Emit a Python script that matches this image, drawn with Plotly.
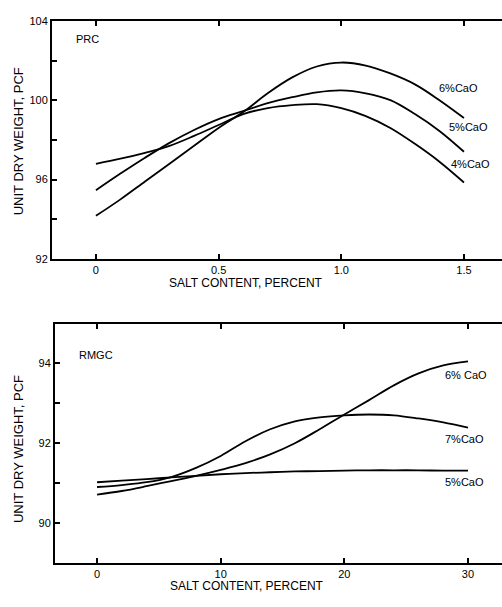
import plotly.graph_objects as go

# ---------------- data: PRC panel ----------------
prc_salt = [0, 0.1, 0.2, 0.3, 0.4, 0.5, 0.6, 0.7, 0.8, 0.9, 1.0, 1.1, 1.2, 1.3, 1.4, 1.5]
prc_6cao = [94.17, 95.0, 95.9, 96.8, 97.7, 98.6, 99.4, 100.35, 101.15, 101.7, 101.9, 101.75, 101.35, 100.8, 100.0, 99.1]
prc_5cao = [95.46, 96.3, 97.1, 97.85, 98.5, 99.05, 99.45, 99.85, 100.15, 100.4, 100.5, 100.35, 100.0, 99.3, 98.45, 97.4]
prc_4cao = [96.79, 97.05, 97.35, 97.7, 98.2, 98.75, 99.3, 99.6, 99.75, 99.8, 99.6, 99.2, 98.6, 97.8, 96.9, 95.85]

# ---------------- data: RMGC panel ----------------
rmgc_salt = [0, 2, 4, 6, 8, 10, 12, 14, 16, 18, 20, 22, 24, 26, 28, 30]
rmgc_6cao = [90.71, 90.8, 90.92, 91.05, 91.18, 91.33, 91.5, 91.72, 92.0, 92.35, 92.72, 93.08, 93.45, 93.75, 93.95, 94.05]
rmgc_7cao = [90.9, 90.95, 91.02, 91.15, 91.38, 91.68, 92.05, 92.35, 92.55, 92.65, 92.7, 92.72, 92.7, 92.62, 92.52, 92.39]
rmgc_5cao = [91.02, 91.06, 91.1, 91.14, 91.18, 91.22, 91.25, 91.27, 91.29, 91.3, 91.31, 91.32, 91.32, 91.32, 91.31, 91.31]

# tick labels
prc_xticks = [0, 0.5, 1.0, 1.5]
prc_xtext = ["0", "0.5", "1.0", "1.5"]
prc_yticks = [92, 94, 96, 98, 100, 102, 104]
prc_ytext = ["92", "", "96", "", "100", "", "104"]
rmgc_xticks = [0, 10, 20, 30]
rmgc_xtext = ["0", "10", "20", "30"]
rmgc_yticks = [89, 90, 91, 92, 93, 94, 95]
rmgc_ytext = ["", "90", "", "92", "", "94", ""]

FONT = "Liberation Sans, Arial, sans-serif"
line_style = dict(color="black", width=1.8, shape="spline", smoothing=1.0)

fig = go.Figure()
for ys in (prc_6cao, prc_5cao, prc_4cao):
    fig.add_trace(go.Scatter(x=prc_salt, y=ys, mode="lines", line=line_style,
                             xaxis="x", yaxis="y", showlegend=False, hoverinfo="skip"))
for ys in (rmgc_6cao, rmgc_7cao, rmgc_5cao):
    fig.add_trace(go.Scatter(x=rmgc_salt, y=ys, mode="lines", line=line_style,
                             xaxis="x2", yaxis="y2", showlegend=False, hoverinfo="skip"))

axis_common = dict(showline=True, linecolor="black", linewidth=2, showgrid=False,
                   zeroline=False, ticks="inside", ticklen=5, tickwidth=1.5,
                   tickcolor="black", tickfont=dict(family=FONT, size=11, color="black"))

fig.update_layout(
    width=502, height=607,
    margin=dict(l=0, r=0, t=0, b=0),
    paper_bgcolor="white", plot_bgcolor="white",
    font=dict(family=FONT, color="black"),
    xaxis=dict(axis_common, domain=[0.1036, 1.0], anchor="y", range=[-0.179, 1.655],
               tickvals=prc_xticks, ticktext=prc_xtext, mirror="ticks"),
    yaxis=dict(axis_common, domain=[0.575, 0.975], anchor="x", range=[92, 104],
               tickvals=prc_yticks, ticktext=prc_ytext, mirror=False),
    yaxis3=dict(overlaying="y", side="right", anchor="x", range=[92, 104], showline=False,
                showgrid=False, zeroline=False, ticks="inside", ticklen=5, tickwidth=1.5,
                tickcolor="black", tickvals=prc_yticks, showticklabels=False),
    xaxis2=dict(axis_common, domain=[0.1096, 1.0], anchor="y2", range=[-3.4, 32.75],
                tickvals=rmgc_xticks, ticktext=rmgc_xtext, mirror="ticks"),
    yaxis2=dict(axis_common, domain=[0.0643, 0.4662], anchor="x2", range=[89, 95],
                tickvals=rmgc_yticks, ticktext=rmgc_ytext, mirror=False),
    yaxis4=dict(overlaying="y2", side="right", anchor="x2", range=[89, 95], showline=False,
                showgrid=False, zeroline=False, ticks="inside", ticklen=5, tickwidth=1.5,
                tickcolor="black", tickvals=rmgc_yticks, showticklabels=False),
)

ann_font = dict(family=FONT, size=11, color="black")
def lab(text, x, y, xref, yref):
    return dict(text=text, x=x, y=y, xref=xref, yref=yref, xanchor="left", yanchor="middle",
                showarrow=False, font=ann_font)

annotations = [
    # panel names
    lab("PRC", -0.09, 103.1, "x", "y"),
    lab("RMGC", -1.6, 94.2, "x2", "y2"),
    # curve labels, PRC
    lab("6%CaO", 1.39, 100.64, "x", "y"),
    lab("5%CaO", 1.43, 98.65, "x", "y"),
    lab("4%CaO", 1.44, 96.8, "x", "y"),
    # curve labels, RMGC
    lab("6% CaO", 27.95, 93.7, "x2", "y2"),
    lab("7%CaO", 27.95, 92.1, "x2", "y2"),
    lab("5%CaO", 27.95, 91.02, "x2", "y2"),
    # axis titles
    dict(text="UNIT DRY WEIGHT, PCF", x=18 / 502, y=1 - 138 / 607, xref="paper", yref="paper",
         xanchor="center", yanchor="middle", textangle=-90, showarrow=False,
         font=dict(family=FONT, size=13, color="black")),
    dict(text="UNIT DRY WEIGHT, PCF", x=18 / 502, y=1 - 452 / 607, xref="paper", yref="paper",
         xanchor="center", yanchor="middle", textangle=-90, showarrow=False,
         font=dict(family=FONT, size=13, color="black")),
    dict(text="SALT CONTENT, PERCENT", x=246 / 502, y=1 - 283 / 607, xref="paper", yref="paper",
         xanchor="center", yanchor="middle", showarrow=False,
         font=dict(family=FONT, size=12, color="black")),
    dict(text="SALT CONTENT, PERCENT", x=247 / 502, y=1 - 592 / 607, xref="paper", yref="paper",
         xanchor="center", yanchor="middle", showarrow=False,
         font=dict(family=FONT, size=12, color="black")),
]
fig.update_layout(annotations=annotations)

fig.write_html("out.html")
